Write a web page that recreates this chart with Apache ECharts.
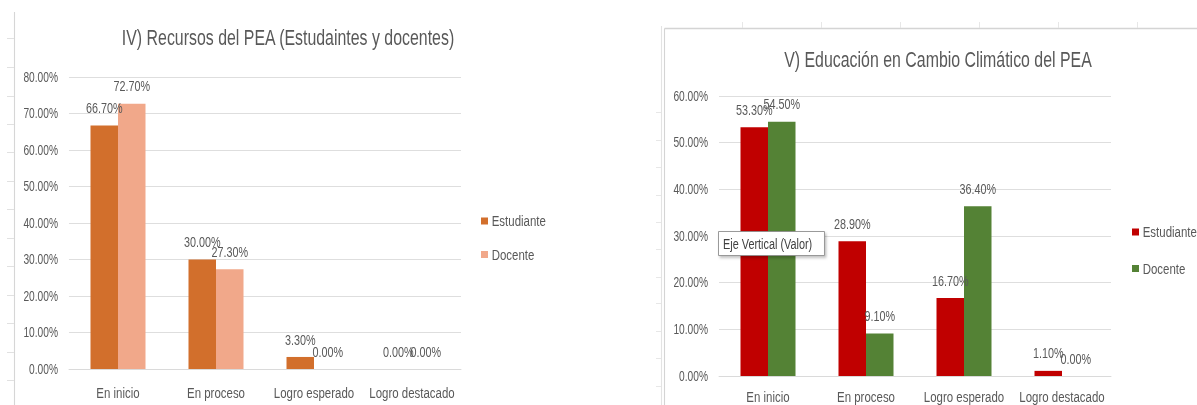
<!DOCTYPE html>
<html>
<head>
<meta charset="utf-8">
<script src="https://cdn.jsdelivr.net/npm/echarts@6/dist/echarts.min.js"></script>
<style>
html,body{margin:0;padding:0;background:#fff;overflow:hidden;width:1197px;height:405px;}
#wrap{width:1197px;height:405px;overflow:hidden;position:relative;}
#c{width:1618px;height:405px;transform:scaleX(0.74);transform-origin:0 0;position:absolute;left:0;top:0;}
</style>
</head>
<body>
<div id="wrap"><div id="c"></div></div>
<script>
const categories = ['En inicio', 'En proceso', 'Logro esperado', 'Logro destacado'];
const seriesNames = ['Estudiante', 'Docente'];
const recursosEstudiante = [66.7, 30.0, 3.3, 0.0];
const recursosDocente = [72.7, 27.3, 0.0, 0.0];
const climaEstudiante = [53.3, 28.9, 16.7, 1.1];
const climaDocente = [54.5, 9.1, 36.4, 0.0];
const titleRecursos = 'IV) Recursos del PEA (Estudaintes y docentes)';
const titleClima = 'V) Educación en Cambio Climático del PEA';
const recursosAxisMax = 80;
const climaAxisMax = 60;
const axisInterval = 10;
const tooltipLabel = 'Eje Vertical (Valor)';

// the reference picture is horizontally condensed; the chart is laid out
// in a wider box and condensed by S, so X() maps picture pixels to chart pixels
const S = 0.74;
const W = 1618;
const X = px => px / S;

const FONT = "'Liberation Sans', Arial, sans-serif";
const TXT = '#595959';
const GRID = '#d9d9d9';

const chart = echarts.init(document.getElementById('c'), null, {renderer: 'svg', width: W, height: 405});

function pct(v) { return v.toFixed(2) + '%'; }

function barSeries(name, data, color, idx) {
  return {
    type: 'bar', name: name, data: data,
    xAxisIndex: idx, yAxisIndex: idx,
    barWidth: X(27.5), barGap: '0%',
    itemStyle: {color: color},
    label: {
      show: true, position: 'top', distance: 10,
      formatter: p => pct(p.value),
      color: TXT, fontFamily: FONT, fontSize: 14.6
    }
  };
}

function valueAxis(idx, max) {
  return {
    type: 'value', gridIndex: idx, min: 0, max: max, interval: axisInterval,
    axisLine: {show: false}, axisTick: {show: false},
    splitLine: {lineStyle: {color: GRID, width: 1}},
    axisLabel: {formatter: v => pct(v), color: TXT, fontFamily: FONT, fontSize: 13.8, margin: X(11)}
  };
}

function catAxis(idx, margin) {
  return {
    type: 'category', gridIndex: idx, data: categories,
    axisLine: {lineStyle: {color: GRID, width: 1}},
    axisTick: {show: false},
    axisLabel: {color: TXT, fontFamily: FONT, fontSize: 15.5, margin: margin, interval: 0}
  };
}

// decorative spreadsheet lines around the two pasted charts
const deco = [];
function line(x1, y1, x2, y2, color, w) {
  deco.push({type: 'line', shape: {x1: X(x1), y1: y1, x2: X(x2), y2: y2},
    style: {stroke: color, lineWidth: w}, silent: true, z: 0});
}
line(14.5, 12, 14.5, 405, '#d6d6d6', 1.5);
[38, 67, 96, 124, 152, 181, 209, 238, 266, 295, 323, 352, 380].forEach(y => line(7, y + 0.5, 14, y + 0.5, '#dcdcdc', 1));
line(661.5, 26, 661.5, 405, '#e3e3e3', 1.5);
line(664.5, 28.5, 664.5, 405, '#d4d4d4', 1.5);
line(664.5, 28.5, 1197, 28.5, '#d4d4d4', 1.5);
[112, 140, 167, 195, 222, 249, 277, 303, 331, 358, 386].forEach(y => line(656, y + 0.5, 661, y + 0.5, '#e3e3e3', 1));
[742, 821, 900, 979, 1058, 1137].forEach(x => line(x + 0.5, 22, x + 0.5, 28, '#e3e3e3', 1));

// hover label box left on the picture
deco.push({
  type: 'rect', z: 100,
  shape: {x: X(718.5), y: 231.5, width: X(106), height: 24},
  style: {fill: '#fff', stroke: '#8c8c8c', lineWidth: 1, shadowBlur: 3, shadowOffsetX: 2, shadowOffsetY: 2, shadowColor: 'rgba(0,0,0,0.25)'}
});
deco.push({
  type: 'text', z: 101, x: X(723), y: 243.5,
  style: {text: tooltipLabel, fill: '#404040', fontFamily: FONT, fontSize: 14.7, verticalAlign: 'middle'}
});

const option = {
  animation: false,
  backgroundColor: '#ffffff',
  title: [
    {text: titleRecursos, left: X(288), top: 27, textAlign: 'center', padding: 0,
     textStyle: {color: TXT, fontFamily: FONT, fontSize: 21.5, fontWeight: 'normal'}},
    {text: titleClima, left: X(938), top: 49, textAlign: 'center', padding: 0,
     textStyle: {color: TXT, fontFamily: FONT, fontSize: 21.5, fontWeight: 'normal'}}
  ],
  legend: [
    {orient: 'vertical', left: X(481), top: 213, itemWidth: X(7), itemHeight: 7, itemGap: 17.5, icon: 'rect',
     data: seriesNames, textStyle: {color: TXT, fontFamily: FONT, fontSize: 15.5}, padding: 0, selectedMode: false},
    {orient: 'vertical', left: X(1132), top: 224, itemWidth: X(7), itemHeight: 7, itemGap: 20.5, icon: 'rect',
     data: seriesNames.map(n => n + ' '), textStyle: {color: TXT, fontFamily: FONT, fontSize: 15.5}, padding: 0, selectedMode: false}
  ],
  grid: [
    {left: X(69), right: W - X(461), top: 77, bottom: 405 - 369, containLabel: false, outerBoundsMode: 'none'},
    {left: X(719), right: W - X(1111), top: 96, bottom: 405 - 376, containLabel: false, outerBoundsMode: 'none'}
  ],
  xAxis: [catAxis(0, 16), catAxis(1, 13)],
  yAxis: [valueAxis(0, recursosAxisMax), valueAxis(1, climaAxisMax)],
  series: [
    barSeries(seriesNames[0], recursosEstudiante, '#D26F2C', 0),
    barSeries(seriesNames[1], recursosDocente, '#F1A88A', 0),
    barSeries(seriesNames[0] + ' ', climaEstudiante, '#C00000', 1),
    barSeries(seriesNames[1] + ' ', climaDocente, '#548235', 1)
  ],
  graphic: {elements: deco}
};
chart.setOption(option);
</script>
</body>
</html>
